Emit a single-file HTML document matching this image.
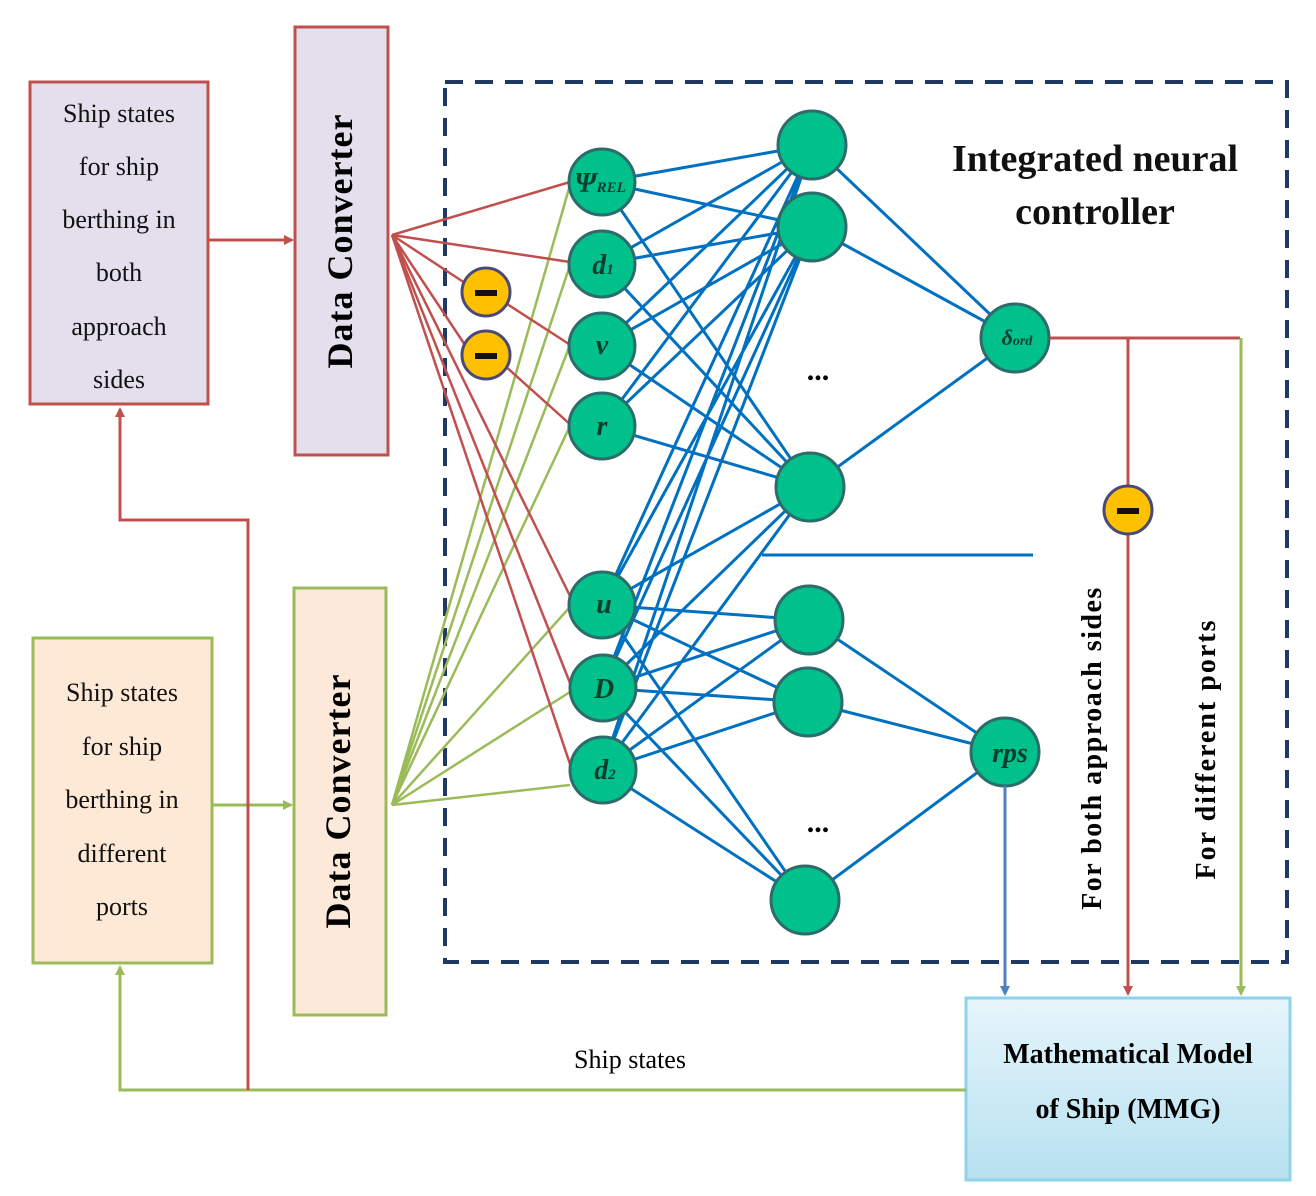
<!DOCTYPE html>
<html><head><meta charset="utf-8"><style>html,body{margin:0;padding:0;background:#fff}svg{display:block}</style></head><body>
<svg width="1316" height="1196" viewBox="0 0 1316 1196" xmlns="http://www.w3.org/2000/svg" font-family="Liberation Serif, serif">
<defs>
<marker id="ar" markerWidth="10" markerHeight="10" refX="8" refY="5" orient="auto" markerUnits="userSpaceOnUse"><path d="M0,0 L10,5 L0,10 z" fill="#c0504d"/></marker>
<marker id="ag" markerWidth="10" markerHeight="10" refX="8" refY="5" orient="auto" markerUnits="userSpaceOnUse"><path d="M0,0 L10,5 L0,10 z" fill="#9bbb59"/></marker>
<marker id="ab" markerWidth="10" markerHeight="10" refX="8" refY="5" orient="auto" markerUnits="userSpaceOnUse"><path d="M0,0 L10,5 L0,10 z" fill="#4f81bd"/></marker>
<linearGradient id="mm" x1="0" y1="0" x2="0" y2="1"><stop offset="0" stop-color="#e6f5fb"/><stop offset="1" stop-color="#b7e1f0"/></linearGradient>
</defs>
<rect x="445" y="82" width="842" height="880" fill="none" stroke="#1f3864" stroke-width="4" stroke-dasharray="18,12"/>
<rect x="30" y="82" width="178" height="322" fill="#e4dfec" stroke="#c0504d" stroke-width="3"/>
<g font-size="26" text-anchor="middle" fill="#111">
<text x="119" y="122">Ship states</text><text x="119" y="175">for ship</text><text x="119" y="228">berthing in</text><text x="119" y="281">both</text><text x="119" y="335">approach</text><text x="119" y="388">sides</text>
</g>
<rect x="33" y="638" width="179" height="325" fill="#fde9d5" stroke="#9bbb59" stroke-width="3"/>
<g font-size="26" text-anchor="middle" fill="#111">
<text x="122" y="701">Ship states</text><text x="122" y="755">for ship</text><text x="122" y="808">berthing in</text><text x="122" y="862">different</text><text x="122" y="915">ports</text>
</g>
<rect x="295" y="27" width="93" height="428" fill="#e4dfec" stroke="#c0504d" stroke-width="3"/>
<text transform="translate(352,241) rotate(-90)" font-size="36" font-weight="bold" text-anchor="middle" letter-spacing="1">Data  Converter</text>
<rect x="294" y="588" width="92" height="427" fill="#fde9d9" stroke="#9bbb59" stroke-width="3"/>
<text transform="translate(350,801) rotate(-90)" font-size="36" font-weight="bold" text-anchor="middle" letter-spacing="1">Data  Converter</text>
<line x1="208" y1="240" x2="292" y2="240" stroke="#c0504d" stroke-width="3" marker-end="url(#ar)"/>
<line x1="212" y1="805" x2="291" y2="805" stroke="#9bbb59" stroke-width="3" marker-end="url(#ag)"/>
<g stroke="#9bbb59" stroke-width="2.5">
<line x1="392" y1="805" x2="570" y2="185"/><line x1="392" y1="805" x2="570" y2="265"/><line x1="392" y1="805" x2="570" y2="345"/><line x1="392" y1="805" x2="570" y2="426"/><line x1="392" y1="805" x2="570" y2="607"/><line x1="392" y1="805" x2="570" y2="692"/><line x1="392" y1="805" x2="570" y2="785"/>
</g>
<g stroke="#c0504d" stroke-width="2.5">
<line x1="392" y1="235" x2="570" y2="182"/><line x1="392" y1="235" x2="570" y2="262"/><line x1="392" y1="235" x2="465" y2="283"/><line x1="392" y1="235" x2="465" y2="345"/>
<line x1="504" y1="302" x2="572" y2="346"/><line x1="504" y1="365" x2="572" y2="426"/>
<line x1="392" y1="235" x2="572" y2="600"/><line x1="392" y1="235" x2="572" y2="688"/><line x1="392" y1="235" x2="572" y2="770"/>
</g>
<g stroke="#0070c0" stroke-width="3">
<path d="M602 182L812 145M602 182L812 227M602 182L810 487M602 264L812 145M602 264L812 227M602 264L810 487M602 346L812 145M602 346L812 227M602 346L810 487M602 426L812 145M602 426L812 227M602 426L810 487"/>
<path d="M602 605L812 145M602 605L812 227M602 605L810 487M602 605L809 620M602 605L808 702M602 605L805 900M602 688L812 145M602 688L812 227M602 688L810 487M602 688L809 620M602 688L808 702M602 688L805 900M602 770L812 145M602 770L812 227M602 770L810 487M602 770L809 620M602 770L808 702M602 770L805 900"/>
<path d="M812 145L1015 338M812 227L1015 338M810 487L1015 338M809 620L1005 752M808 702L1005 752M805 900L1005 752"/>
<line x1="762" y1="555" x2="1033" y2="555"/>
</g>
<g fill="#00c08b" stroke="#2e6b6b" stroke-width="3">
<circle cx="602" cy="182" r="33"/><circle cx="602" cy="264" r="33"/><circle cx="602" cy="346" r="33"/><circle cx="602" cy="426" r="33"/>
<circle cx="602" cy="605" r="33"/><circle cx="603" cy="688" r="33"/><circle cx="603" cy="770" r="33"/>
<circle cx="812" cy="145" r="34"/><circle cx="812" cy="227" r="34"/><circle cx="810" cy="487" r="34"/>
<circle cx="809" cy="620" r="34"/><circle cx="808" cy="702" r="34"/><circle cx="805" cy="900" r="34"/>
<circle cx="1015" cy="338" r="34"/><circle cx="1005" cy="752" r="34"/>
</g>
<g font-style="italic" font-weight="bold" fill="#0b3d2e" text-anchor="middle">
<text x="600" y="192" font-size="28">Ψ<tspan font-size="15">REL</tspan></text>
<text x="603" y="274" font-size="28">d<tspan font-size="15">1</tspan></text>
<text x="602" y="354" font-size="28">v</text>
<text x="602" y="435" font-size="28">r</text>
<text x="604" y="613" font-size="28">u</text>
<text x="604" y="698" font-size="28">D</text>
<text x="605" y="779" font-size="28">d<tspan font-size="15">2</tspan></text>
<text x="1017" y="345" font-size="22">δ<tspan font-size="14">ord</tspan></text>
<text x="1010" y="762" font-size="28">rps</text>
</g>
<g font-size="30" font-weight="bold" text-anchor="middle"><text x="818" y="380">...</text><text x="818" y="832">...</text></g>
<g fill="#ffc000" stroke="#4a4a7a" stroke-width="3">
<circle cx="486" cy="292" r="24"/><circle cx="486" cy="355" r="24"/>
</g>
<g fill="#111"><rect x="475" y="290" width="22" height="6"/><rect x="475" y="353" width="22" height="6"/></g>
<g font-size="38" font-weight="bold" text-anchor="middle" fill="#111"><text x="1095" y="171">Integrated neural</text><text x="1095" y="224">controller</text></g>
<line x1="1050" y1="338" x2="1240" y2="338" stroke="#c0504d" stroke-width="3"/>
<line x1="1128" y1="338" x2="1128" y2="994" stroke="#c0504d" stroke-width="3" marker-end="url(#ar)"/>
<line x1="1241" y1="338" x2="1241" y2="994" stroke="#9bbb59" stroke-width="3" marker-end="url(#ag)"/>
<line x1="1005" y1="786" x2="1005" y2="994" stroke="#4f81bd" stroke-width="3" marker-end="url(#ab)"/>
<circle cx="1128" cy="510" r="24" fill="#ffc000" stroke="#4a4a7a" stroke-width="3"/><rect x="1117" y="508" width="22" height="6" fill="#111"/>
<text transform="translate(1101,748) rotate(-90)" font-size="28" font-weight="bold" text-anchor="middle" letter-spacing="1.5">For both approach sides</text>
<text transform="translate(1215,749) rotate(-90)" font-size="28" font-weight="bold" text-anchor="middle" letter-spacing="2">For different ports</text>
<rect x="966" y="998" width="324" height="182" fill="url(#mm)" stroke="#8fd3ea" stroke-width="3"/>
<g font-size="28" font-weight="bold" text-anchor="middle"><text x="1128" y="1063">Mathematical Model</text><text x="1128" y="1118">of Ship (MMG)</text></g>
<polyline points="966,1090 120,1090 120,967" fill="none" stroke="#9bbb59" stroke-width="3" marker-end="url(#ag)"/>
<polyline points="248,1090 248,520 120,520 120,409" fill="none" stroke="#c0504d" stroke-width="3" marker-end="url(#ar)"/>
<text x="630" y="1068" font-size="26" text-anchor="middle">Ship states</text>
</svg>
</body></html>
